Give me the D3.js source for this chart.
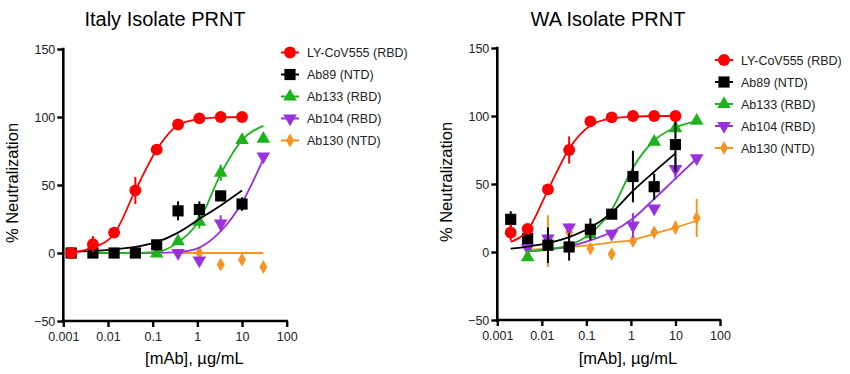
<!DOCTYPE html>
<html>
<head>
<meta charset="utf-8">
<script src="https://cdn.jsdelivr.net/npm/d3@7"></script>
<style>
	body { margin: 0; background: #fff; }
	svg { font-family: "Liberation Sans", Arial, sans-serif; }
</style>
</head>
<body>
<svg width="850" height="374"></svg>
<script>
// dilution series, µg/mL
const concItaly = [0.0015, 0.0046, 0.0137, 0.041, 0.123, 0.37, 1.11, 3.33, 10, 30];
const concWA = [0.002, 0.0048, 0.0137, 0.041, 0.123, 0.37, 1.11, 3.33, 10, 30];

const seriesNames = ["LY-CoV555 (RBD)", "Ab89 (NTD)", "Ab133 (RBD)", "Ab104 (RBD)", "Ab130 (NTD)"];
const xTicks = [0.001, 0.01, 0.1, 1, 10, 100];
const xTickLabels = ["0.001", "0.01", "0.1", "1", "10", "100"];
const yTicks = [-50, 0, 50, 100, 150];

// Italy isolate: means, errors, fitted curve read at each concentration
const italyLY = [0, 6.5, 15, 46, 76, 94.5, 99, 100, 100, null];
const italyLYErr = [0, 6, 0, 10, 0, 0, 0, 0, 0, null];
const italyLYFit = [0.5, 4, 14, 46, 76, 94, 98.5, 99.7, 100, null];

const italyAb89 = [0, 0, 0, 0, 6, 31, 32, 42, 36, null];
const italyAb89Err = [0, 0, 0, 0, 0, 7, 6, 0, 5, null];
const italyAb89Fit = [0.8, 1.5, 2.7, 4.5, 8, 15, 25, 35, 46, null];

const italyAb133 = [null, null, null, null, -0.5, 8.6, 23, 59, 83, 84];
const italyAb133Err = [null, null, null, null, 0, 0, 5, 6, 0, 0];
const italyAb133Fit = [null, 0, 0, 0.1, 0.7, 8, 24, 58, 83, 93.5];

const italyAb104 = [null, null, null, null, null, 0, -5.4, 21.7, null, 71];
const italyAb104Err = [null, null, null, null, null, 0, 0, 6, null, 0];
const italyAb104Fit = [null, null, null, 0, 0.2, 0.7, 4, 16, 37, 69];

const italyAb130 = [null, null, null, null, null, null, 0, -8.6, -4.9, -10.3];
const italyAb130Err = [null, null, null, null, null, null, 0, 0, 0, 0];
const italyAb130Fit = [null, null, null, null, null, 0, 0, 0, 0, 0];

// WA isolate
const waLY = [14.3, 17, 46, 75, 96, 99, 100, 100, 100, null];
const waLYErr = [6, 0, 0, 10, 0, 0, 0, 0, 0, null];
const waLYFit = [7.5, 16, 45.5, 76, 93, 98.3, 99.5, 100, 100, null];

const waAb89 = [24, 10, 5, 3.7, 16.7, 27.8, 55.5, 48, 79, null];
const waAb89Err = [6, 0, 13, 10, 8, 0, 19, 9.5, 20, null];
const waAb89Fit = [2.5, 4, 6.5, 11, 18, 29, 45, 59, 72.5, null];

const waAb133 = [null, -4, null, null, 13, null, null, 81, 91, 96.5];
const waAb133Err = [null, 0, null, null, 3, null, null, 0, 0, 0];
const waAb133Fit = [null, 0.5, 1.8, 5, 13.5, 31, 62, 82, 91.6, 96.3];

const waAb104 = [null, 3, 10, 18, null, 13.5, 19.5, 32, 61, 69];
const waAb104Err = [null, 0, 0, 3, null, 0, 9, 0, 8, 0];
const waAb104Fit = [null, 0.5, 1.8, 4.2, 8.6, 14.7, 24.6, 39, 54, 68.8];

const waAb130 = [null, 2.5, 8, 14.5, 2.5, -1.5, 8.1, 14.5, 18, 25];
const waAb130Err = [null, 0, 19, 0, 0, 0, 0, 0, 5, 14];
const waAb130Fit = [null, 1.5, 2.5, 3.5, 5, 7, 9, 13.5, 18, 23];

const colours = ["#ff0000", "#000000", "#1db31d", "#9a30e0", "#f7931e"];
const shapes = ["circle", "square", "up", "down", "diamond"];

let panels = [
	{
		title: "Italy Isolate PRNT", titleX: 165,
		x0: 63.3, x1: 286.7, yTop: 49, yBottom: 321,
		legendX: 290, legendY: 52.5,
		conc: concItaly,
		series: [
			[italyLY, italyLYErr, italyLYFit],
			[italyAb89, italyAb89Err, italyAb89Fit],
			[italyAb133, italyAb133Err, italyAb133Fit],
			[italyAb104, italyAb104Err, italyAb104Fit],
			[italyAb130, italyAb130Err, italyAb130Fit],
		],
	},
	{
		title: "WA Isolate PRNT", titleX: 608,
		x0: 497.3, x1: 720, yTop: 48, yBottom: 320,
		legendX: 724, legendY: 60,
		conc: concWA,
		series: [
			[waLY, waLYErr, waLYFit],
			[waAb89, waAb89Err, waAb89Fit],
			[waAb133, waAb133Err, waAb133Fit],
			[waAb104, waAb104Err, waAb104Fit],
			[waAb130, waAb130Err, waAb130Fit],
		],
	},
];

let svg = d3.select("svg");

function symbolPath(shape){
	if (shape === "circle") return d3.symbol().type(d3.symbolCircle).size(110)();
	if (shape === "square") return d3.symbol().type(d3.symbolSquare).size(125)();
	if (shape === "diamond") return d3.symbol().type(d3.symbolDiamond).size(55)();
	return d3.symbol().type(d3.symbolTriangle).size(80)();
}

function drawMarker(g, shape, colour, x, y){
	let p = g.append("path")
		.attr("d", symbolPath(shape))
		.attr("fill", colour)
		.attr("transform", "translate(" + x + "," + y + ")" + (shape === "down" ? " rotate(180)" : ""))
		;
	return p;
}

panels.forEach(function(panel){
	let x = d3.scaleLog().domain([0.001, 100]).range([panel.x0, panel.x1]);
	let y = d3.scaleLinear().domain([-50, 150]).range([panel.yBottom, panel.yTop]);

	let g = svg.append("g");

	// axes
	let xAxis = g.append("g")
		.attr("transform", "translate(0," + panel.yBottom + ")")
		.call(d3.axisBottom(x)
			.tickValues(xTicks)
			.tickFormat(function(d, i){ return xTickLabels[i]; })
			.tickSize(6)
			.tickPadding(5));
	let yAxis = g.append("g")
		.attr("transform", "translate(" + panel.x0 + ",0)")
		.call(d3.axisLeft(y)
			.tickValues(yTicks)
			.tickSize(6)
			.tickPadding(2));
	[xAxis, yAxis].forEach(function(a){
		a.select(".domain").remove();
		a.selectAll(".tick line").attr("stroke-width", 2.4);
		a.selectAll(".tick text").attr("font-size", "12.5px").attr("fill", "#222");
	});
	g.append("line")
		.attr("x1", panel.x0 - 1.3).attr("x2", panel.x1 + 1.2)
		.attr("y1", panel.yBottom).attr("y2", panel.yBottom)
		.attr("stroke", "#000").attr("stroke-width", 2.6);
	g.append("line")
		.attr("x1", panel.x0).attr("x2", panel.x0)
		.attr("y1", panel.yTop - 1.2).attr("y2", panel.yBottom + 1.3)
		.attr("stroke", "#000").attr("stroke-width", 2.6);

	// titles
	g.append("text")
		.attr("x", panel.titleX).attr("y", 26)
		.attr("text-anchor", "middle")
		.attr("font-size", "20px")
		.text(panel.title);
	g.append("text")
		.attr("transform", "translate(" + (panel.x0 - 45) + "," + ((panel.yTop + panel.yBottom) / 2 - 2) + ") rotate(-90)")
		.attr("text-anchor", "middle")
		.attr("font-size", "16.5px")
		.text("% Neutralization");
	g.append("text")
		.attr("x", x(1) - 3).attr("y", 364)
		.attr("text-anchor", "middle")
		.attr("font-size", "16.5px")
		.text("[mAb], µg/mL");

	// series, last drawn on top: red on top
	let order = [4, 3, 2, 1, 0];
	order.forEach(function(s){
		let vals = panel.series[s][0];
		let errs = panel.series[s][1];
		let fit = panel.series[s][2];
		let colour = colours[s];
		let sg = g.append("g");

		let fitPts = panel.conc.map(function(c, i){ return [c, fit[i]]; })
			.filter(function(d){ return d[1] !== null; });
		sg.append("path")
			.datum(fitPts)
			.attr("fill", "none")
			.attr("stroke", colour)
			.attr("stroke-width", 1.8)
			.attr("d", d3.line()
				.x(function(d){ return x(d[0]); })
				.y(function(d){ return y(d[1]); })
				.curve(d3.curveMonotoneX));

		panel.conc.forEach(function(c, i){
			if (vals[i] === null) return;
			if (errs[i] > 0) {
				sg.append("line")
					.attr("x1", x(c)).attr("x2", x(c))
					.attr("y1", y(vals[i] - errs[i])).attr("y2", y(vals[i] + errs[i]))
					.attr("stroke", colour).attr("stroke-width", 2);
			}
			drawMarker(sg, shapes[s], colour, x(c), y(vals[i]));
		});
	});

	// legend
	let lg = g.append("g");
	seriesNames.forEach(function(name, i){
		let ly = panel.legendY + i * 22;
		lg.append("line")
			.attr("x1", panel.legendX - 9).attr("x2", panel.legendX + 9)
			.attr("y1", ly).attr("y2", ly)
			.attr("stroke", colours[i]).attr("stroke-width", 2);
		drawMarker(lg, shapes[i], colours[i], panel.legendX, ly);
		lg.append("text")
			.attr("x", panel.legendX + 17).attr("y", ly + 4.5)
			.attr("font-size", "12.5px")
			.attr("fill", "#222")
			.text(name);
	});
});
</script>
</body>
</html>
